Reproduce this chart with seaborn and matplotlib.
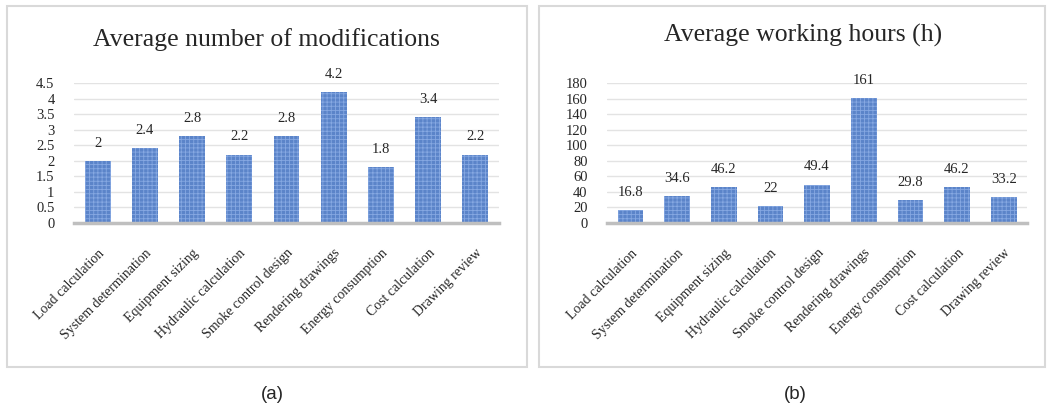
import matplotlib
matplotlib.use("Agg")
import matplotlib.pyplot as plt
from matplotlib.patches import Rectangle
import seaborn as sns
import pandas as pd

categories = ["Load calculation", "System determination", "Equipment sizing",
              "Hydraulic calculation", "Smoke control design", "Rendering drawings",
              "Energy consumption", "Cost calculation", "Drawing review"]
modifications = [2, 2.4, 2.8, 2.2, 2.8, 4.2, 1.8, 3.4, 2.2]
hours = [16.8, 34.6, 46.2, 22, 49.4, 161, 29.8, 46.2, 33.2]
mod_labels = ["2", "2.4", "2.8", "2.2", "2.8", "4.2", "1.8", "3.4", "2.2"]
hour_labels = ["16.8", "34.6", "46.2", "22", "49.4", "161", "29.8", "46.2", "33.2"]
mod_ticks = [0, 0.5, 1, 1.5, 2, 2.5, 3, 3.5, 4, 4.5]
mod_tick_labels = ["0", "0.5", "1", "1.5", "2", "2.5", "3", "3.5", "4", "4.5"]
hour_ticks = [0, 20, 40, 60, 80, 100, 120, 140, 160, 180]

sns.set_theme(style="white")
plt.rcParams["font.family"] = ["Liberation Serif", "DejaVu Serif"]
plt.rcParams["hatch.linewidth"] = 0.6
plt.rcParams["hatch.color"] = "#86a8e2"

W, H = 1047, 411
fig = plt.figure(figsize=(W / 100, H / 100), dpi=100)

BAR = "#5b84c9"


def px_axes(x0, y0, x1, y1):
    return fig.add_axes([x0 / W, 1 - y1 / H, (x1 - x0) / W, (y1 - y0) / H])


def panel_box(x0, y0, x1, y1):
    fig.add_artist(Rectangle((x0 / W, 1 - y1 / H), (x1 - x0) / W, (y1 - y0) / H,
                             transform=fig.transFigure, fill=False,
                             edgecolor="#d9d9d9", linewidth=1.5))


def draw(ax, values, labels, ticks, tick_labels, ymax, title, title_xy):
    df = pd.DataFrame({"cat": categories, "val": values})
    sns.barplot(data=df, x="cat", y="val", color=BAR, width=0.55, ax=ax,
                saturation=1, edgecolor="none")
    for p in ax.patches:
        p.set_hatch("++++")
        p.set_edgecolor("#86a8e2")
        p.set_linewidth(0)
    ax.set_ylim(0, ymax)
    ax.set_xlim(-0.5, len(categories) - 0.5)
    ax.set_yticks(ticks)
    ax.set_yticklabels(tick_labels, fontsize=10.5)
    ax.yaxis.grid(True, color="#e3e3e3", linewidth=1)
    ax.set_axisbelow(True)
    for s in ["top", "right", "left"]:
        ax.spines[s].set_visible(False)
    ax.spines["bottom"].set_color("#bfbfbf")
    ax.spines["bottom"].set_linewidth(2.5)
    ax.tick_params(axis="both", length=0)
    ax.tick_params(axis="y", pad=14)
    ax.set_xticks(range(len(categories)))
    ax.set_xticklabels(categories, rotation=45, ha="right", va="top",
                       rotation_mode="anchor", fontsize=10)
    ax.tick_params(axis="x", pad=17)
    ax.set_xlabel("")
    ax.set_ylabel("")
    for i, (v, t) in enumerate(zip(values, labels)):
        ax.annotate(t, (i, v), xytext=(0, 8), textcoords="offset points",
                    ha="center", va="bottom", fontsize=10.5)
    fig.text(title_xy[0] / W, 1 - title_xy[1] / H, title, ha="center",
             va="center", fontsize=18.5)


panel_box(7, 6, 527, 367)
panel_box(539, 6, 1045, 367)

ax1 = px_axes(74, 83, 499, 223)
draw(ax1, modifications, mod_labels, mod_ticks, mod_tick_labels, 4.5,
     "Average number of modifications", (266, 40))

ax2 = px_axes(607, 83, 1027, 223)
draw(ax2, hours, hour_labels, hour_ticks, [str(t) for t in hour_ticks], 180,
     "Average working hours (h)", (803, 35))

fig.text(272 / W, 1 - 394 / H, "(a)", ha="center", va="center", fontsize=13.5,
         family=["Liberation Sans", "DejaVu Sans"])
fig.text(795 / W, 1 - 394 / H, "(b)", ha="center", va="center", fontsize=13.5,
         family=["Liberation Sans", "DejaVu Sans"])

fig.savefig("out.png", dpi=100)
